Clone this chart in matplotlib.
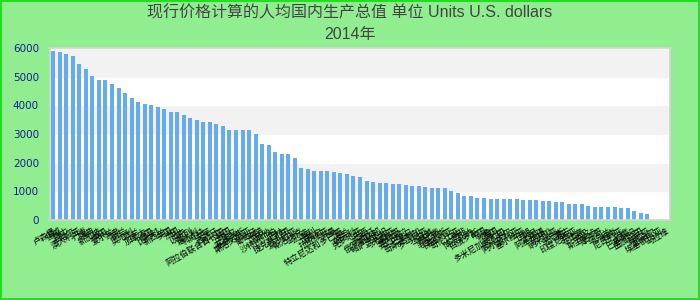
import numpy as np
import matplotlib
matplotlib.use('Agg')
import matplotlib.pyplot as plt
from matplotlib.patches import Rectangle

plt.rcParams['font.family'] = ['Liberation Sans', 'Noto Sans CJK SC', 'DejaVu Sans']

# data (last three categories have no value)
countries = [
    '卢森堡', '挪威', '瑞士', '卡塔尔', '澳大利亚', '丹麦', '瑞典', '新加坡', '美国', '爱尔兰',
    '冰岛', '荷兰', '奥地利', '芬兰', '加拿大', '德国', '比利时', '新西兰', '英国', '法国',
    '日本', '以色列', '意大利', '科威特', '文莱', '西班牙', '阿拉伯联合酋长国', '韩国', '巴哈马', '塞浦路斯',
    '斯洛文尼亚', '葡萄牙', '希腊', '马耳他', '沙特阿拉伯', '巴林', '捷克共和国', '爱沙尼亚', '斯洛伐克', '乌拉圭',
    '智利', '立陶宛', '拉脱维亚', '阿曼', '特立尼达和多巴哥', '波兰', '匈牙利', '克罗地亚', '巴西', '阿根廷',
    '俄罗斯联邦', '哈萨克斯坦', '马来西亚', '墨西哥', '委内瑞拉', '巴拿马', '哥斯达黎加', '罗马尼亚', '土耳其', '黎巴嫩',
    '毛里求斯', '保加利亚', '哥伦比亚', '南非', '博茨瓦纳', '白俄罗斯', '中国', '秘鲁', '泰国', '多米尼加共和国',
    '厄瓜多尔', '阿尔及利亚', '塞尔维亚', '伊朗', '约旦', '阿塞拜疆', '牙买加', '纳米比亚', '突尼斯', '蒙古',
    '印度尼西亚', '菲律宾', '埃及', '斯里兰卡', '摩洛哥', '乌克兰', '越南', '尼日利亚', '印度', '巴基斯坦',
    '孟加拉国', '肯尼亚', '尼泊尔', '埃塞俄比亚', '马拉维',
]
values = [
    5900, 5860, 5790, 5720, 5440, 5270, 5020, 4880, 4880, 4740, 4600, 4430,
    4260, 4120, 4050, 4010, 3940, 3870, 3770, 3770, 3660, 3560, 3490,
    3420, 3420, 3350, 3280, 3140, 3140, 3140, 3140, 3000, 2650, 2620, 2370,
    2300, 2300, 2160, 1810, 1780, 1710, 1710, 1710, 1670, 1640, 1600,
    1535, 1500, 1360, 1325, 1290, 1290, 1256, 1256, 1220, 1186, 1186, 1151,
    1116, 1116, 1116, 1012, 942, 837, 837, 767, 767, 733, 733,
    733, 733, 733, 698, 698, 698, 663, 663, 628, 628, 558, 558, 558,
    488, 453, 453, 453, 453, 419, 419, 314, 244, 209,
    np.nan, np.nan, np.nan,
]
yticks = [0, 1000, 2000, 3000, 4000, 5000, 6000]

fig = plt.figure(figsize=(7, 3), dpi=100, facecolor='#90ee90')
ax = fig.add_axes([50 / 700, 1 - 220 / 300, 620 / 700, 172 / 300])

x = np.arange(len(countries))
ax.set_xlim(-0.5, len(countries) - 0.5)
ax.set_ylim(0, 6000)

# alternating bands
for i in range(len(yticks) - 1):
    ax.axhspan(yticks[i], yticks[i + 1], color='white' if i % 2 == 0 else '#f2f2f2', zorder=0)

ax.bar(x, values, width=0.62, color='#66abf0', zorder=2)

ax.set_yticks(yticks)
ax.set_yticklabels([str(t) for t in yticks], color='#1c1c8c', fontsize=7.5, family='DejaVu Sans')
ax.set_xticks(x)
ax.set_xticklabels(countries, rotation=30, ha='right', va='top', fontsize=6, color='black',
                   rotation_mode='anchor')
ax.tick_params(axis='y', length=0, pad=8)
ax.tick_params(axis='x', length=0, pad=5)
for s in ax.spines.values():
    s.set_color('#d4d4d4')
    s.set_linewidth(1.2)

fig.text(0.5, 1 - 13 / 300, '现行价格计算的人均国内生产总值 单位 Units U.S. dollars',
         ha='center', va='center', fontsize=11.5, color='#444444')
fig.text(0.5, 1 - 35 / 300, '2014年', ha='center', va='center', fontsize=11.5, color='#444444')

# outer green border
fig.patches.append(Rectangle((0.001, 0.002), 0.997, 0.995, transform=fig.transFigure,
                             fill=False, edgecolor='#22dd22', linewidth=1.5))

fig.savefig('out.png', dpi=100, facecolor=fig.get_facecolor())
